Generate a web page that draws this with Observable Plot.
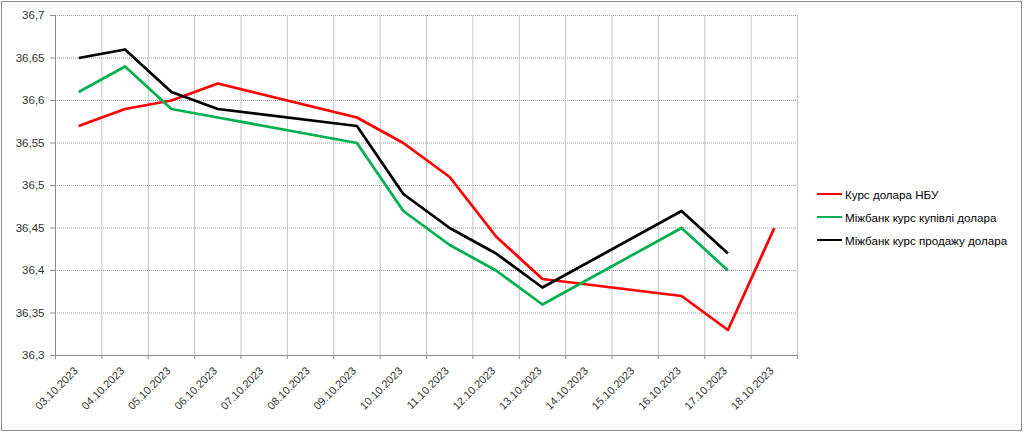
<!DOCTYPE html>
<html><head><meta charset="utf-8">
<script src="https://cdn.jsdelivr.net/npm/d3@7"></script>
<script src="https://cdn.jsdelivr.net/npm/@observablehq/plot@0.6"></script>
<style>
body{margin:0;background:#fff;}
#wrap{position:relative;width:1024px;height:434px;overflow:hidden;font-family:"Liberation Sans",Arial,sans-serif;background:#fff;}
#chart{position:absolute;left:0;top:0;}
#frame{position:absolute;left:1px;top:1px;width:1021px;height:430px;border:1px solid #8c8c8c;box-sizing:border-box;pointer-events:none;}
#legend{position:absolute;left:817px;top:182.5px;font-size:11.6px;color:#000;}
.item{display:flex;align-items:center;height:23px;white-space:nowrap;}
.sw{width:25px;height:0;border-top:2.5px solid;margin-right:3px;}
</style>
</head><body>
<div id="wrap"><div id="chart"></div><div id="legend"></div><div id="frame"></div></div>
<script>
const dates = ["03.10.2023","04.10.2023","05.10.2023","06.10.2023","07.10.2023","08.10.2023","09.10.2023","10.10.2023","11.10.2023","12.10.2023","13.10.2023","14.10.2023","15.10.2023","16.10.2023","17.10.2023","18.10.2023"];
const seriesNames = ["Курс долара НБУ","Міжбанк курс купівлі долара","Міжбанк курс продажу долара"];
const seriesColors = ["#ff0000","#00b050","#000000"];
const nbu  = [36.57,36.59,36.60,36.62,null,null,36.58,36.55,36.51,36.44,36.39,null,null,36.37,36.33,36.45];
const buy  = [36.61,36.64,36.59,36.58,null,null,36.55,36.47,36.43,36.40,36.36,null,null,36.45,36.40,null];
const sell = [36.65,36.66,36.61,36.59,null,null,36.57,36.49,36.45,36.42,36.38,null,null,36.47,36.42,null];
const yTicks = [36.3,36.35,36.4,36.45,36.5,36.55,36.6,36.65,36.7];

const seriesValues = [nbu, buy, sell];
const rowsFor = vals => vals.map((v,i)=>({i, v})).filter(d => d.v != null);
const bounds = d3.range(dates.length + 1).map(i => i - 0.5);
const fmt = d => String(d).replace(".", ",");

const lineMarks = seriesValues.map((vals, k) =>
  Plot.line(rowsFor(vals), {x:"i", y:"v", stroke: seriesColors[k], strokeWidth: 2.75, strokeLinejoin:"round", strokeLinecap:"butt"}));

const chart = Plot.plot({
  width: 1024, height: 434,
  marginLeft: 55, marginRight: 227, marginTop: 15, marginBottom: 79,
  style: {fontFamily: "'Liberation Sans', Arial, sans-serif", background: "transparent"},
  x: {type: "linear", domain: [-0.5, dates.length - 0.5], axis: null},
  y: {domain: [36.3, 36.7], axis: null},
  marks: [
    Plot.ruleY(yTicks, {stroke: "#9a9a9a", strokeDasharray: "1,1"}),
    Plot.ruleX(bounds, {stroke: "#c4c4c4"}),
    Plot.ruleX([-0.5], {stroke: "#8c8c8c"}),
    Plot.ruleY([36.3], {stroke: "#8c8c8c"}),
    Plot.axisX(bounds, {tickSize: 4, tickFormat: () => "", color: "#8c8c8c", label: null}),
    Plot.axisY(yTicks, {tickSize: 5, tickFormat: () => "", color: "#8c8c8c", label: null}),
    Plot.text(yTicks, {y: d => d, frameAnchor: "left", dx: -11, textAnchor: "end", text: fmt, fontSize: 11.5, fill: "#333"}),
    Plot.text(dates, {x: (d,i) => i, frameAnchor: "bottom", dy: 16, rotate: -45, textAnchor: "end", text: d => d, fontSize: 11, fill: "#333"}),
    ...lineMarks
  ]
});
document.getElementById("chart").appendChild(chart);

const legend = document.getElementById("legend");
seriesNames.forEach((n, k) => {
  const it = document.createElement("div"); it.className = "item";
  const sw = document.createElement("div"); sw.className = "sw"; sw.style.borderTopColor = seriesColors[k];
  const t = document.createElement("span"); t.textContent = n;
  it.appendChild(sw); it.appendChild(t); legend.appendChild(it);
});
</script>
</body></html>
